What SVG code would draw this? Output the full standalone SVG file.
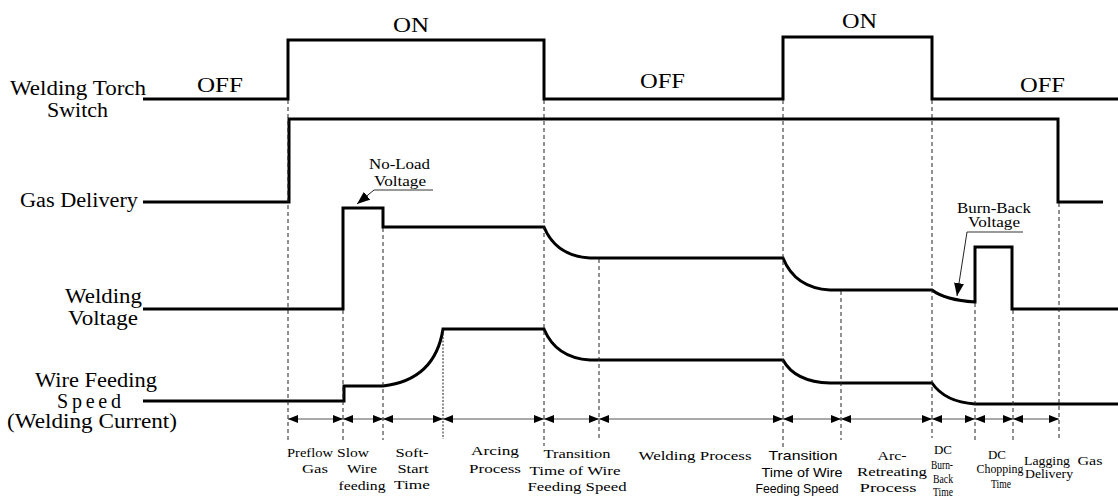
<svg xmlns="http://www.w3.org/2000/svg" width="1118" height="497" viewBox="0 0 1118 497">
<defs>
<style>
.sig{fill:none;stroke:#000;stroke-width:3;stroke-linejoin:miter}
.dash{fill:none;stroke:#222;stroke-width:1;stroke-dasharray:4 3}
.dot{fill:none;stroke:#222;stroke-width:1;stroke-dasharray:2 1.5}
.dim{fill:none;stroke:#555;stroke-width:1;marker-start:url(#ah);marker-end:url(#ah)}
.call{fill:none;stroke:#777;stroke-width:1.5}
.calla{fill:none;stroke:#222;stroke-width:1;marker-end:url(#ch)}
text{font-family:"Liberation Serif","Times New Roman",serif;fill:#000}
.big{font-size:20px}
.mid{font-size:14px}
.sm{font-size:13px;text-anchor:middle}
.xs{font-size:13px;text-anchor:middle}
.sans{font-family:"Liberation Sans",Arial,sans-serif;font-size:13px;text-anchor:middle}
</style>
<marker id="ah" markerUnits="userSpaceOnUse" markerWidth="10" markerHeight="8" refX="10" refY="4" orient="auto-start-reverse">
<path d="M0,0 L10,4 L0,8 z" fill="#000"/>
</marker>
<marker id="ch" markerUnits="userSpaceOnUse" markerWidth="13" markerHeight="10" refX="13" refY="5" orient="auto">
<path d="M0,0 L13,5 L0,10 z" fill="#000"/>
</marker>
</defs>

<g id="torch-switch">
<path class="sig" d="M143,99 H288 V40 H544 V99 H783 V37 H932 V99 H1118"/>
<text class="big" x="10" y="95" textLength="136" lengthAdjust="spacingAndGlyphs">Welding Torch</text>
<text class="big" x="47" y="117" textLength="61" lengthAdjust="spacingAndGlyphs">Switch</text>
<text class="big" x="197" y="92" textLength="46" lengthAdjust="spacingAndGlyphs">OFF</text>
<text class="big" x="393" y="32" textLength="36" lengthAdjust="spacingAndGlyphs">ON</text>
<text class="big" x="640" y="88" textLength="45" lengthAdjust="spacingAndGlyphs">OFF</text>
<text class="big" x="842" y="28" textLength="35" lengthAdjust="spacingAndGlyphs">ON</text>
<text class="big" x="1020" y="92" textLength="45" lengthAdjust="spacingAndGlyphs">OFF</text>
</g>

<g id="gas-delivery">
<path class="sig" d="M143,202 H289 V119 H1058 V202 H1103"/>
<text class="big" x="20" y="207" textLength="118" lengthAdjust="spacingAndGlyphs">Gas Delivery</text>
</g>

<g id="welding-voltage">
<path class="sig" d="M143,309 H343 V208 H383 V227 H544 Q556,256 590,258 H783 Q795,288 830,290 H932 Q945,300 975,302 V247 H1012 V309 H1118"/>
<text class="big" x="65" y="303" textLength="77" lengthAdjust="spacingAndGlyphs">Welding</text>
<text class="big" x="68" y="325" textLength="70" lengthAdjust="spacingAndGlyphs">Voltage</text>
</g>

<g id="wire-feeding">
<path class="sig" d="M143,401 H344 V386 H383 Q435,380 443,329 H544 Q556,358 590,360 H783 Q795,382 830,383 H932 Q945,402 975,404 H1118"/>
<text class="big" x="35" y="387" textLength="122" lengthAdjust="spacingAndGlyphs">Wire Feeding</text>
<text class="big" x="57" y="408" textLength="64" lengthAdjust="spacing">Speed</text>
<text class="big" x="7" y="428" textLength="170" lengthAdjust="spacingAndGlyphs">(Welding Current)</text>
</g>

<g id="no-load-callout">
<text class="mid" x="369" y="169" textLength="61" lengthAdjust="spacingAndGlyphs">No-Load</text>
<text class="mid" x="374" y="186" textLength="52" lengthAdjust="spacingAndGlyphs">Voltage</text>
<line class="call" x1="374" y1="190" x2="433" y2="190"/>
<line class="calla" x1="374" y1="190" x2="357" y2="204"/>
</g>

<g id="burn-back-callout">
<text class="mid" x="957" y="213" textLength="74" lengthAdjust="spacingAndGlyphs">Burn-Back</text>
<text class="mid" x="968" y="227" textLength="52" lengthAdjust="spacingAndGlyphs">Voltage</text>
<line class="call" x1="967" y1="232" x2="1023" y2="232"/>
<line class="calla" x1="967" y1="232" x2="957" y2="296"/>
</g>

<g id="connectors">
<line class="dash" x1="288" y1="100" x2="288" y2="440"/>
<line class="dash" x1="343" y1="310" x2="343" y2="440"/>
<line class="dash" x1="383" y1="228" x2="383" y2="440"/>
<line class="dot" x1="443" y1="330" x2="443" y2="439"/>
<line class="dash" x1="544" y1="100" x2="544" y2="446"/>
<line class="dash" x1="599" y1="259" x2="599" y2="441"/>
<line class="dash" x1="783" y1="100" x2="783" y2="447"/>
<line class="dash" x1="841" y1="291" x2="841" y2="440"/>
<line class="dash" x1="932" y1="100" x2="932" y2="438"/>
<line class="dash" x1="975" y1="303" x2="975" y2="440"/>
<line class="dash" x1="1013" y1="310" x2="1013" y2="440"/>
<line class="dash" x1="1059" y1="203" x2="1059" y2="440"/>

<line class="dim" x1="288" y1="419" x2="343" y2="419"/>
<line class="dim" x1="343" y1="419" x2="383" y2="419"/>
<line class="dim" x1="383" y1="419" x2="443" y2="419"/>
<line class="dim" x1="443" y1="419" x2="544" y2="419"/>
<line class="dim" x1="544" y1="419" x2="599" y2="419"/>
<line class="dim" x1="599" y1="419" x2="783" y2="419"/>
<line class="dim" x1="783" y1="419" x2="841" y2="419"/>
<line class="dim" x1="841" y1="419" x2="932" y2="419"/>
<line class="dim" x1="932" y1="419" x2="975" y2="419"/>
<line class="dim" x1="975" y1="419" x2="1013" y2="419"/>
<line class="dim" x1="1013" y1="419" x2="1059" y2="419"/>
</g>

<g id="phase-labels">
<text class="sm" x="310" y="457" textLength="46" lengthAdjust="spacingAndGlyphs">Preflow</text>
<text class="sm" x="315" y="473" textLength="26" lengthAdjust="spacingAndGlyphs">Gas</text>

<text class="sm" x="353" y="457" textLength="32" lengthAdjust="spacingAndGlyphs">Slow</text>
<text class="sm" x="362" y="473" textLength="30" lengthAdjust="spacingAndGlyphs">Wire</text>
<text class="sm" x="362" y="490" textLength="47" lengthAdjust="spacingAndGlyphs">feeding</text>

<text class="sm" x="412" y="457" textLength="33" lengthAdjust="spacingAndGlyphs">Soft-</text>
<text class="sm" x="413" y="473" textLength="31" lengthAdjust="spacingAndGlyphs">Start</text>
<text class="sm" x="412" y="489" textLength="36" lengthAdjust="spacingAndGlyphs">Time</text>

<text class="sm" x="495" y="455" textLength="48" lengthAdjust="spacingAndGlyphs">Arcing</text>
<text class="sm" x="495" y="473" textLength="52" lengthAdjust="spacingAndGlyphs">Process</text>

<text class="sm" x="577" y="458" textLength="67" lengthAdjust="spacingAndGlyphs">Transition</text>
<text class="sm" x="575" y="475" textLength="91" lengthAdjust="spacingAndGlyphs">Time of Wire</text>
<text class="sm" x="577" y="491" textLength="99" lengthAdjust="spacingAndGlyphs">Feeding Speed</text>

<text class="sm" x="695" y="460" textLength="113" lengthAdjust="spacingAndGlyphs">Welding Process</text>

<text class="sans" x="803" y="460" textLength="69" lengthAdjust="spacingAndGlyphs">Transition</text>
<text class="sans" x="802" y="477" textLength="81" lengthAdjust="spacingAndGlyphs">Time of Wire</text>
<text class="sans" x="797" y="493" textLength="83" lengthAdjust="spacingAndGlyphs">Feeding Speed</text>

<text class="sm" x="892" y="460" textLength="29" lengthAdjust="spacingAndGlyphs">Arc-</text>
<text class="sm" x="892" y="476" textLength="70" lengthAdjust="spacingAndGlyphs">Retreating</text>
<text class="sm" x="888" y="492" textLength="57" lengthAdjust="spacingAndGlyphs">Process</text>

<text class="xs" x="943" y="454" textLength="18" lengthAdjust="spacingAndGlyphs">DC</text>
<text class="xs" x="942" y="469" textLength="22" lengthAdjust="spacingAndGlyphs">Burn-</text>
<text class="xs" x="943" y="483" textLength="20" lengthAdjust="spacingAndGlyphs">Back</text>
<text class="xs" x="943" y="496" textLength="20" lengthAdjust="spacingAndGlyphs">Time</text>

<text class="xs" x="997" y="459" textLength="18" lengthAdjust="spacingAndGlyphs">DC</text>
<text class="xs" x="1000" y="473" textLength="47" lengthAdjust="spacingAndGlyphs">Chopping</text>
<text class="xs" x="1001" y="488" textLength="20" lengthAdjust="spacingAndGlyphs">Time</text>

<text class="xs" x="1047" y="465" textLength="46" lengthAdjust="spacingAndGlyphs">Lagging</text>
<text class="xs" x="1090" y="465" textLength="25" lengthAdjust="spacingAndGlyphs">Gas</text>
<text class="xs" x="1049" y="478" textLength="48" lengthAdjust="spacingAndGlyphs">Delivery</text>
</g>
</svg>
